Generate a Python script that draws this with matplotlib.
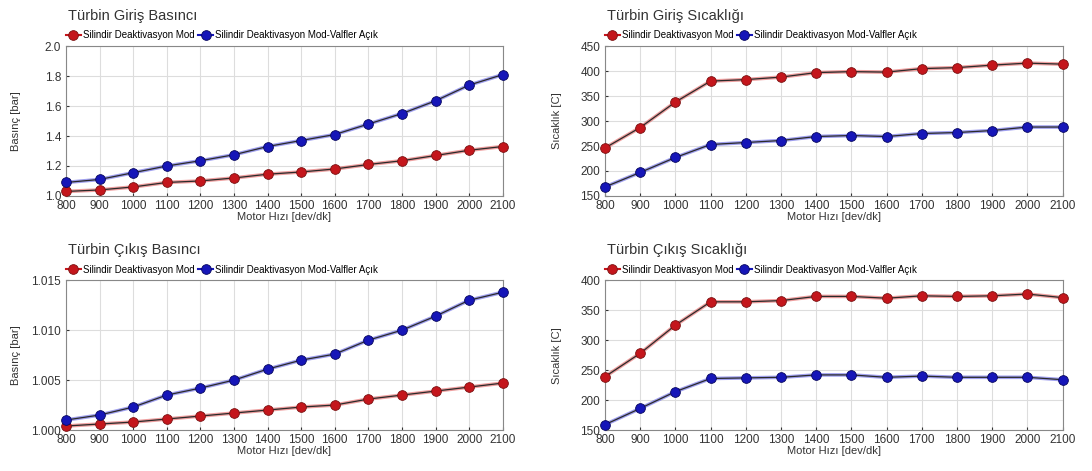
import matplotlib.pyplot as plt
from matplotlib.lines import Line2D

plt.rcParams['font.family'] = ['Liberation Sans', 'DejaVu Sans']

motor_hizi = [800, 900, 1000, 1100, 1200, 1300, 1400, 1500, 1600, 1700, 1800, 1900, 2000, 2100]

# Türbin giriş basıncı [bar]
giris_bas_mod = [1.03, 1.04, 1.06, 1.09, 1.10, 1.12, 1.145, 1.16, 1.18, 1.21, 1.235, 1.27, 1.305, 1.33]
giris_bas_valf = [1.09, 1.11, 1.155, 1.20, 1.235, 1.275, 1.33, 1.37, 1.41, 1.48, 1.55, 1.635, 1.74, 1.81]

# Türbin giriş sıcaklığı [C]
giris_sic_mod = [246, 287, 338, 380, 383, 388, 397, 399, 398, 405, 407, 412, 416, 414]
giris_sic_valf = [168, 197, 227, 253, 257, 261, 269, 271, 269, 275, 277, 281, 288, 288]

# Türbin çıkış basıncı [bar]
cikis_bas_mod = [1.0004, 1.0006, 1.0008, 1.0011, 1.0014, 1.0017, 1.0020, 1.0023, 1.0025, 1.0031, 1.0035, 1.0039, 1.0043, 1.0047]
cikis_bas_valf = [1.0010, 1.0015, 1.0023, 1.0035, 1.0042, 1.0050, 1.0061, 1.0070, 1.0076, 1.0090, 1.0100, 1.0114, 1.0130, 1.0138]

# Türbin çıkış sıcaklığı [C]
cikis_sic_mod = [239, 278, 325, 364, 364, 366, 373, 373, 370, 374, 373, 374, 377, 371]
cikis_sic_valf = [159, 186, 214, 236, 237, 238, 242, 242, 238, 240, 238, 238, 238, 234]

seri_adlari = ["Silindir Deaktivasyon Mod", "Silindir Deaktivasyon Mod-Valfler Açık"]
kirmizi = ("#e05050", "#c4161c", "#7a1010")
mavi = ("#5050e0", "#1616b8", "#06065e")

paneller = [
    ("Türbin Giriş Basıncı", "Basınç [bar]", giris_bas_mod, giris_bas_valf,
     (1.0, 2.0), [1.0, 1.2, 1.4, 1.6, 1.8, 2.0], "{:.1f}"),
    ("Türbin Giriş Sıcaklığı", "Sıcaklık [C]", giris_sic_mod, giris_sic_valf,
     (150, 450), list(range(150, 451, 50)), "{:.0f}"),
    ("Türbin Çıkış Basıncı", "Basınç [bar]", cikis_bas_mod, cikis_bas_valf,
     (1.0, 1.015), [1.0, 1.005, 1.010, 1.015], "{:.3f}"),
    ("Türbin Çıkış Sıcaklığı", "Sıcaklık [C]", cikis_sic_mod, cikis_sic_valf,
     (150, 400), list(range(150, 401, 50)), "{:.0f}"),
]

# eksen konumları ve y etiketinin yatay yeri
konumlar = [
    ([0.0604, 0.584, 0.400, 0.318], -0.102),
    ([0.554, 0.584, 0.419, 0.318], -0.095),
    ([0.0604, 0.087, 0.400, 0.318], -0.102),
    ([0.554, 0.087, 0.419, 0.318], -0.095),
]


def seri_ciz(ax, y, renk):
    hale, merkez, kenar = renk
    ax.plot(motor_hizi, y, color=hale, lw=2.6, alpha=0.55, zorder=2)
    ax.plot(motor_hizi, y, color="#2a2a2a", lw=0.9, zorder=2.5)
    ax.plot(motor_hizi, y, ls="none", marker="o", ms=7, mfc=merkez,
            mec=kenar, mew=0.6, zorder=3, clip_on=False)


fig = plt.figure(figsize=(10.92, 4.71), dpi=100)

for (baslik, ylabel, y_mod, y_valf, ylim, yticks, fmt), (pos, ylab_x) in zip(paneller, konumlar):
    ax = fig.add_axes(pos)
    seri_ciz(ax, y_mod, kirmizi)
    seri_ciz(ax, y_valf, mavi)

    ax.set_xlim(800, 2100)
    ax.set_ylim(*ylim)
    ax.set_xticks(motor_hizi)
    ax.set_yticks(yticks)
    ax.set_yticklabels([fmt.format(t) for t in yticks])
    ax.tick_params(labelsize=8.5, length=2, direction="in", colors="#333333")
    ax.tick_params(axis="x", pad=3)
    ax.tick_params(axis="y", pad=3.5)
    ax.grid(True, color="#dddddd", lw=0.8)
    ax.set_axisbelow(True)
    for sp in ax.spines.values():
        sp.set_color("#888888")
        sp.set_linewidth(0.8)

    ax.set_xlabel("Motor Hızı [dev/dk]", fontsize=8, color="#333333", labelpad=0)
    ax.set_ylabel(ylabel, fontsize=8, color="#333333")
    ax.yaxis.set_label_coords(ylab_x, 0.5)

    ax.text(0.005, 1.155, baslik, transform=ax.transAxes, fontsize=10.5,
            color="#333333", va="bottom", ha="left")

    handles = [
        Line2D([], [], color=kirmizi[1], lw=1.5, marker="o", ms=7, mfc=kirmizi[1], mec=kirmizi[2], mew=0.6),
        Line2D([], [], color=mavi[1], lw=1.5, marker="o", ms=7, mfc=mavi[1], mec=mavi[2], mew=0.6),
    ]
    ax.legend(handles, seri_adlari, loc="lower left", bbox_to_anchor=(-0.005, 1.025),
              ncol=2, frameon=False, fontsize=7, handlelength=1.6, handletextpad=0.2,
              columnspacing=0.3, borderaxespad=0.1, borderpad=0.1)

fig.savefig("out.png", dpi=100)
